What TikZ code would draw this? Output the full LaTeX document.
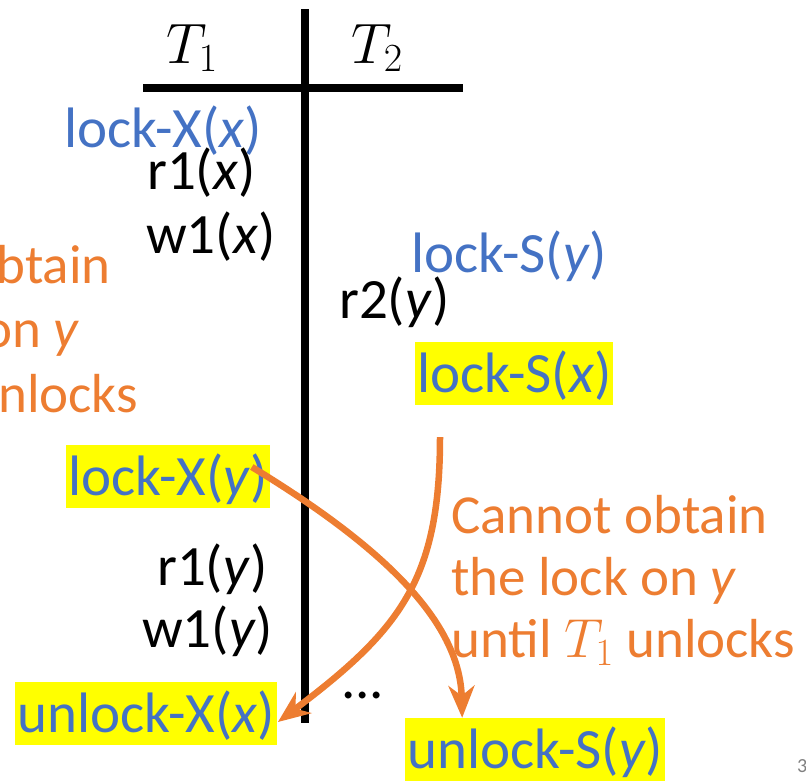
\RequirePackage{fix-cm}
\documentclass[tikz,border=0pt]{standalone}
\usepackage{fontspec}
\setmainfont{Carlito}
\usetikzlibrary{arrows.meta}
\definecolor{myblue}{HTML}{4472C4}
\definecolor{myorange}{HTML}{ED7D31}
\definecolor{hl}{HTML}{FFFF00}
\begin{document}
\begin{tikzpicture}[x=1pt,y=-1pt,
  txt/.style={font=\fontsize{57}{62}\selectfont, inner sep=0pt, anchor=base west},
  note/.style={txt, text=myorange, align=left},
  hlbox/.style={txt, fill=hl, inner xsep=2pt, inner ysep=0pt, text height=50pt, text depth=13pt},
  bar/.style={line width=8pt},
  arr/.style={draw=myorange, line width=6.5pt, -{Stealth[length=32pt,width=26pt,inset=10pt]}}]
\useasboundingbox (0,0) rectangle (806,780);
\clip (0,0) rectangle (806,780);
% table lines
\draw[bar] (305,9) -- (305,723);
\draw[bar] (143,88) -- (463,88);
% headers
\node[txt] (t1) at (166,63) {$T_1$};
\node[txt] (t2) at (351,63) {$T_2$};
% T1 column
\node[txt, text=myblue] (lkXx) at (64,147) {lock-X(\textit{x})};
\node[txt] (r1x) at (147,189) {r1(\textit{x})};
\node[txt] (w1x) at (146,253) {w1(\textit{x})};
\node[hlbox, text=myblue] (lkXy) at (66,495) {lock-X(\textit{y})};
\node[txt] (r1y) at (157,585) {r1(\textit{y})};
\node[txt] (w1y) at (142,647) {w1(\textit{y})};
\node[hlbox, text=myblue] (unlkXx) at (15,732) {unlock-X(\textit{x})};
% T2 column
\node[txt, text=myblue] (lkSy) at (411,272) {lock-S(\textit{y})};
\node[txt] (r2y) at (339,318) {r2(\textit{y})};
\node[hlbox, text=myblue] (lkSx) at (415,392) {lock-S(\textit{x})};
\node[hlbox, text=myblue] (unlkSy) at (405,768) {unlock-S(\textit{y})};
\node[txt] (dots) at (341,698) {...};
% notes (anchor = baseline of the last line)
\node[note, font=\fontsize{55}{62}\selectfont] (noteR) at (451,657) {Cannot obtain\\the lock on \textit{y}\\until $T_1$ unlocks};
\node[note, font=\fontsize{55}{64.5}\selectfont] (noteL) at (-206,412) {Cannot obtain\\the lock on \textit{y}\\until $T_2$ unlocks};
% arrows
\coordinate (a1s) at ([shift={(-18,-9.5)}]lkXy.east);
\draw[arr] (a1s) .. controls (380,545) and (460,620) .. ([xshift=-73pt]unlkSy.north);
\coordinate (a2s) at (440,437);
\draw[arr] (a2s) .. controls (440,580) and (400,630) .. ([shift={(1,8.5)}]unlkXx.east);
% page number
\node[font=\fontsize{20}{24}\selectfont, text=gray, anchor=base west, inner sep=0pt] (pg) at (797,772) {3};
\end{tikzpicture}
\end{document}
